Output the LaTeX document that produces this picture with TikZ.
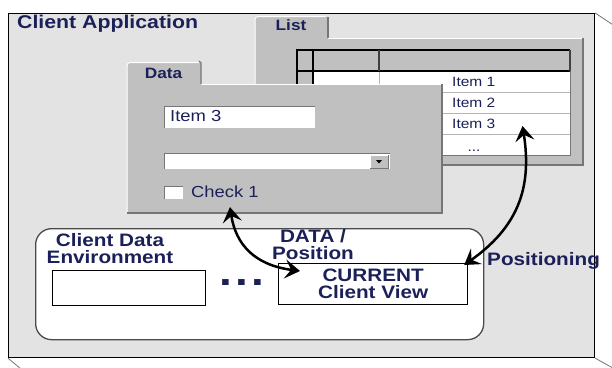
\documentclass[tikz,border=0pt]{standalone}
\usepackage{fontspec}
\setmainfont{Liberation Sans}[FakeStretch=1.15]
\usetikzlibrary{arrows.meta}
\definecolor{framegray}{HTML}{E3E3E3}
\definecolor{panelgray}{HTML}{C0C0C0}
\definecolor{ink}{RGB}{28,32,88}
\definecolor{edgedark}{HTML}{767676}
\definecolor{rowline}{HTML}{B4B4B4}
\definecolor{envedge}{HTML}{4A4A4A}

\begin{document}
\begin{tikzpicture}[x=1pt,y=-1pt,
  lbl/.style={inner sep=0pt, text=ink, font=\bfseries\fontsize{18}{17}\selectfont, align=center},
  plain/.style={inner sep=0pt, text=ink, font=\fontsize{#1}{#1}\selectfont},
  tablbl/.style={inner sep=0pt, text=ink, font=\bfseries\fontsize{15}{15}\selectfont},
  box/.style={draw=black, line width=1.2pt, fill=white, inner sep=0pt},
  tip/.tip={Stealth[length=15pt,width=19pt,inset=6pt]},
  conn/.style={line width=2.5pt, black, tip-tip}
]
\useasboundingbox (0,0) rectangle (612,367);

% application window with its depth edges
\node[draw=black, line width=1.2pt, fill=framegray, minimum width=586pt,
      minimum height=344pt, anchor=north west, inner sep=0pt] (win) at (8,13) {};
\draw[edgedark, line width=0.8pt] (win.north east) -- ++(18,12);
\draw[edgedark, line width=0.8pt] (win.south east) -- ++(18,10);
\draw[edgedark, line width=0.8pt] (win.south west) -- ++(12,10);
\node[inner sep=0pt, text=ink, font=\bfseries\fontsize{18.5}{20}\selectfont,
      anchor=base west] (title) at (17,28.5) {Client Application};

% ---- List page ----
\fill[panelgray] (255,165) -- (255,19) [rounded corners=3pt] -- (255,16) -- (328,16)
  [sharp corners] -- (328,38) -- (583,38) -- (583,165) -- cycle;
\draw[white, line width=1pt] (255,165) -- (255,19) [rounded corners=3pt] -- (255,16.5) -- (326,16.5);
\draw[white, line width=1pt] (328,38.5) -- (583,38.5);
\draw[edgedark, line width=1.4pt] (328,17) -- (328,38);
\draw[edgedark, line width=1.6pt] (583,38) -- (583,165) -- (255,165);
\node[tablbl, anchor=base] (listtab) at (291,30.5) {List};

% table
\fill[white] (297,71) rectangle (570,155);
\fill[panelgray] (297,71) rectangle (313,155);
\fill[panelgray] (297,50) rectangle (570,71);
\foreach \yy in {92,113,134} \draw[rowline, line width=0.8pt] (313,\yy) -- (570,\yy);
\draw[rowline, line width=1pt] (379,71) -- (379,155);
\draw[edgedark, line width=1pt] (297,155) -- (570,155) -- (570,71);
\draw[black, line width=1.6pt] (297,155) -- (297,50) -- (570,50);
\draw[black, line width=1.4pt] (297,71) -- (570,71);
\draw[black, line width=1.4pt] (313,50) -- (313,155);
\draw[black!75, line width=1.4pt] (379,50) -- (379,71);
\draw[black!75, line width=2pt] (570,50) -- (570,71);
\node[plain=13.5, anchor=west] (itm1) at (452,81.5) {Item 1};
\node[plain=13.5, anchor=west] (itm2) at (452,102.5) {Item 2};
\node[plain=13.5, anchor=west] (itm3) at (452,124) {Item 3};
\node[plain=13.5, anchor=base] (more) at (474,151) {...};

% ---- Data page ----
\fill[panelgray] (127,213) -- (127,65) [rounded corners=3pt] -- (127,62) -- (201,62)
  [sharp corners] -- (201,84) -- (442,84) -- (442,213) -- cycle;
\draw[white, line width=1pt] (127,213) -- (127,65) [rounded corners=3pt] -- (127,62.5) -- (199,62.5);
\draw[white, line width=1pt] (201,84.5) -- (442,84.5);
\draw[edgedark, line width=1.4pt] (199,61) -- (201,63) -- (201,84);
\draw[edgedark, line width=1.6pt] (442,84) -- (442,213) -- (127,213);
\node[tablbl, anchor=base] (datatab) at (163.5,78) {Data};

% text field
\fill[white] (164,106) rectangle (315,128);
\draw[edgedark, line width=1pt] (164,128) -- (164,106) -- (315,106);
\node[plain=16, anchor=base west] (field) at (170,121) {Item 3};

% combo box
\fill[white] (164,153) rectangle (390,169);
\draw[edgedark, line width=1pt] (164,169) -- (164,153) -- (390,153);
\fill[panelgray] (370,155) rectangle (388,168);
\draw[white, line width=0.8pt] (370,168) -- (370,155) -- (388,155);
\draw[edgedark, line width=1pt] (370,168) -- (388,168) -- (388,155);
\fill[black] (376,160) -- (382,160) -- (379,163.5) -- cycle;

% check box
\fill[white] (164,186) rectangle (183,199);
\draw[edgedark, line width=1pt] (164,199) -- (164,186) -- (183,186);
\node[plain=16, anchor=west] (chk) at (191,192) {Check 1};

% ---- client data environment ----
\node[draw=envedge, line width=1.3pt, fill=white, rounded corners=16pt,
      minimum width=448pt, minimum height=111pt, anchor=north west, inner sep=0pt]
      (env) at (35,228) {};
\node[lbl] (envlbl) at (110,248.5) {Client Data\\Environment};
\node[box, minimum width=153pt, minimum height=35pt, anchor=north west] (slot) at (52,270) {};
\node[inner sep=0pt, text=ink, font=\bfseries\fontsize{40}{40}\selectfont, anchor=base]
      (dots) at (242,285) {.\hspace{3.2pt}.\hspace{3.2pt}.};
\node[box, minimum width=189pt, minimum height=41pt, anchor=north west] (cur) at (278,263) {};
\node[lbl] (curlbl) at (cur.center) {CURRENT\\Client View};
\node[lbl] (dp) at (313,245) {DATA /\\Position};
\node[lbl, anchor=base west] (pos) at (487,265.5) {Positioning};

% ---- connectors ----
\draw[conn] ([xshift=5pt,yshift=-9pt]chk.south) .. controls +(6,38) and +(-45,-6)
  .. ([xshift=22pt,yshift=-8pt]cur.north west);
\draw[conn] ([xshift=27pt,yshift=-2pt]itm3.east) .. controls +(10,64) and +(52,-37)
  .. ([xshift=-4pt,yshift=-2pt]cur.north east);
\end{tikzpicture}
\end{document}
